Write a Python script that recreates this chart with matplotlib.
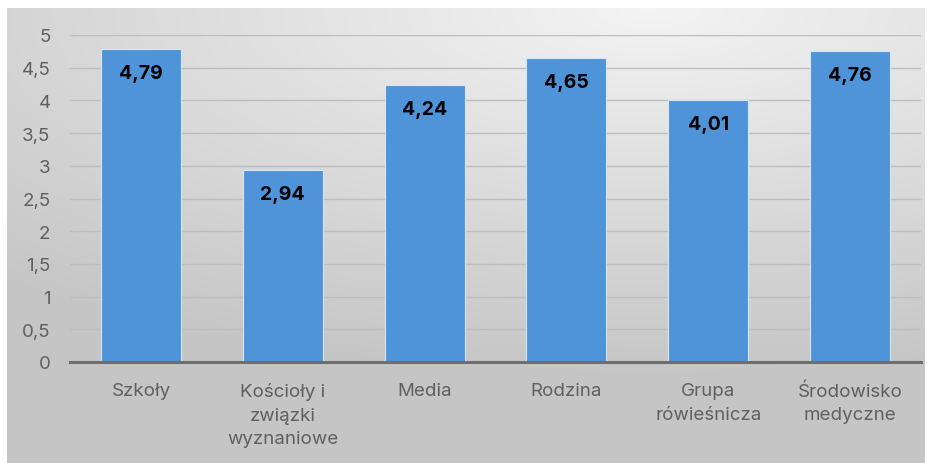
import numpy as np
from matplotlib import pyplot as plt

# Dane
kategorie = ['Szkoły', 'Kościoły i\nzwiązki\nwyznaniowe', 'Media', 'Rodzina',
             'Grupa\nrówieśnicza', 'Środowisko\nmedyczne']
wartosci = [4.79, 2.94, 4.24, 4.65, 4.01, 4.76]
etykiety = ['4,79', '2,94', '4,24', '4,65', '4,01', '4,76']
yticki = [0, 0.5, 1, 1.5, 2, 2.5, 3, 3.5, 4, 4.5, 5]
yetykiety = ['0', '0,5', '1', '1,5', '2', '2,5', '3', '3,5', '4', '4,5', '5']

plt.rcParams['font.family'] = ['Inter', 'DejaVu Sans']

fig = plt.figure(figsize=(9.28, 4.64), dpi=100)

# Tło z gradientem
bg = fig.add_axes([7 / 928, 0, 918 / 928, 455 / 464])
yy, xx = np.mgrid[0:1:200j, 0:1:400j]
r = np.sqrt(((xx - 0.7) * 1.0) ** 2 + ((yy - 0.0) * 1.3) ** 2)
shade = 0.955 - 0.18 * np.clip(r / 1.05, 0, 1)
bg.imshow(np.dstack([shade] * 3), aspect='auto', extent=[0, 1, 0, 1], origin='upper')
bg.axis('off')

ax = fig.add_axes([70 / 928, 101 / 464, 851 / 928, 327 / 464])
ax.patch.set_alpha(0)

x = np.arange(len(kategorie))
ax.bar(x, wartosci, width=0.565, color='#4F94D9', edgecolor='#D6E6F5',
       linewidth=0.8, zorder=3)

for xi, v, t in zip(x, wartosci, etykiety):
    ax.annotate(t, (xi, v), xytext=(0, -24 * 0.72), textcoords='offset points',
                ha='center', va='center', fontsize=14, fontweight='bold',
                color='black', zorder=4)

ax.set_xlim(-0.5, len(kategorie) - 0.5)
ax.set_ylim(0, 5)
ax.set_yticks(yticki)
ax.set_yticklabels(yetykiety, fontsize=13.5, color='#606060')
ax.set_xticks(x)
ax.set_xticklabels(kategorie, fontsize=13.5, color='#606060', linespacing=1.5)
ax.tick_params(axis='both', length=0)
ax.tick_params(axis='y', pad=14)
ax.tick_params(axis='x', pad=14.5)

ax.grid(axis='y', color='#BDBDBD', linewidth=1.0, zorder=0)
for s in ['top', 'right', 'left']:
    ax.spines[s].set_visible(False)
ax.spines['bottom'].set_color('#6E6E6E')
ax.spines['bottom'].set_linewidth(2.2)
ax.spines['bottom'].set_zorder(5)

plt.savefig('out.png', dpi=100)
